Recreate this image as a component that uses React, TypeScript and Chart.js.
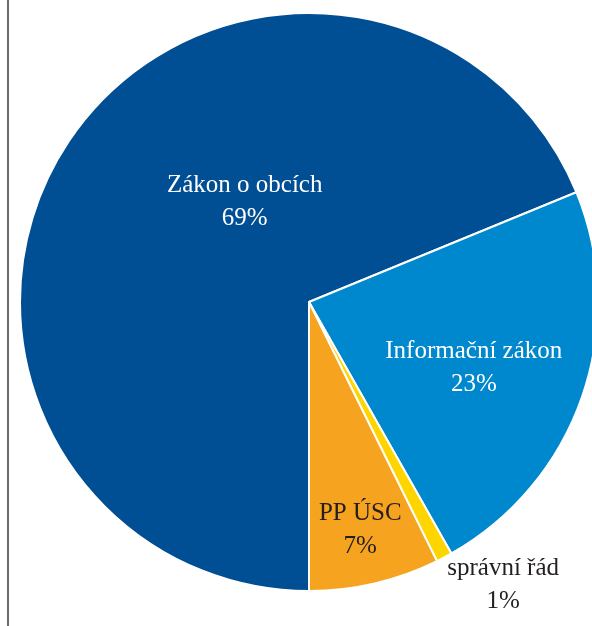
import React, { useEffect, useRef } from "react";
import { Chart, registerables } from "chart.js";

Chart.register(...registerables);

const categories = ["Zákon o obcích", "Informační zákon", "správní řád", "PP ÚSC"];
const values = [68.8, 23.0, 0.9, 7.3];
const percentLabels = ["69%", "23%", "1%", "7%"];
const colors = ["#004E93", "#0088CE", "#FFD500", "#F6A31F"];
const textColors = ["#ffffff", "#ffffff", "#231F20", "#231F20"];
// label anchor: angle (deg, screen coords, clockwise from +x) and fraction of radius
const labelAngles = [238, 20.8, 55.3, 77.2];
const labelRadii = [0.42, 0.61, 1.18, 0.8];

const labelPlugin = {
  id: "sliceLabels",
  afterDatasetsDraw(chart: any) {
    const meta = chart.getDatasetMeta(0);
    const arc0 = meta.data[0];
    if (!arc0) return;
    const cx = arc0.x;
    const cy = arc0.y;
    const r = arc0.outerRadius;
    const ctx = chart.ctx;
    ctx.save();
    ctx.font = '25px "Liberation Serif", "Times New Roman", serif';
    ctx.textAlign = "center";
    ctx.textBaseline = "alphabetic";
    categories.forEach((name, i) => {
      const a = (labelAngles[i] * Math.PI) / 180;
      const x = cx + Math.cos(a) * r * labelRadii[i];
      const y = cy + Math.sin(a) * r * labelRadii[i];
      ctx.fillStyle = textColors[i];
      ctx.fillText(name, x, y - 7);
      ctx.fillText(percentLabels[i], x, y + 26);
    });
    ctx.restore();
  },
};

export default function App() {
  const ref = useRef<HTMLCanvasElement | null>(null);
  useEffect(() => {
    if (!ref.current) return;
    const chart = new Chart(ref.current, {
      type: "pie",
      data: {
        labels: categories,
        datasets: [
          {
            data: values,
            backgroundColor: colors,
            borderColor: "#ffffff",
            borderWidth: 2,
          },
        ],
      },
      options: {
        animation: false,
        responsive: false,
        rotation: 180,
        layout: { padding: { top: 12, bottom: 34, left: 0, right: 0 } },
        plugins: {
          legend: { display: false },
          tooltip: { enabled: false },
        },
      },
      plugins: [labelPlugin],
    });
    return () => chart.destroy();
  }, []);

  return (
    <div
      style={{
        position: "fixed",
        left: 0,
        top: 0,
        width: 592,
        height: 626,
        overflow: "hidden",
        background: "#ffffff",
      }}
    >
      <div
        style={{
          position: "absolute",
          left: 7,
          top: 0,
          width: 2,
          height: 626,
          background: "#6b6b6b",
        }}
      />
      <canvas
        ref={ref}
        width={580}
        height={626}
        style={{ position: "absolute", left: 19, top: 0, width: 580, height: 626 }}
      />
    </div>
  );
}
